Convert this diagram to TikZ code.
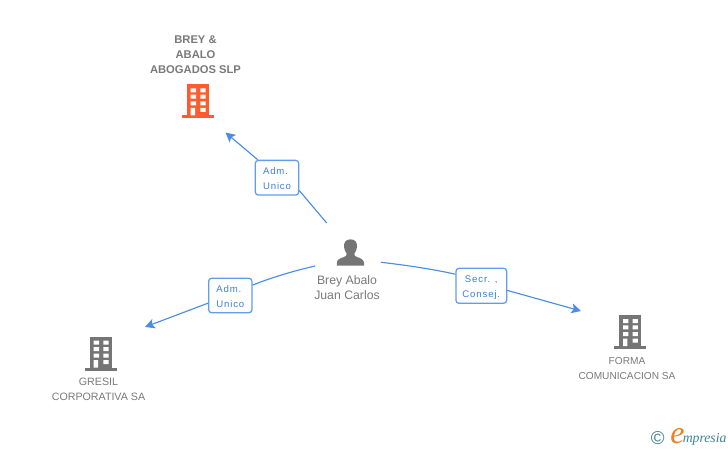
\documentclass[tikz,border=0pt]{standalone}
\usepackage{fontspec}
\setmainfont{Liberation Sans}
\newfontfamily\spaced[LetterSpace=9]{Liberation Sans}
\newfontfamily\logofont{Liberation Serif}
\usetikzlibrary{arrows.meta}
\definecolor{linkblue}{HTML}{4A8CE8}
\definecolor{boxblue}{HTML}{629CEE}
\definecolor{textblue}{HTML}{3C7FE0}
\definecolor{iconGrey}{HTML}{757575}
\definecolor{textGrey}{HTML}{7A7A7A}
\definecolor{orangeicon}{HTML}{FF5C2E}
\definecolor{logoteal}{HTML}{3F8296}
\definecolor{logoorange}{HTML}{F08020}
\tikzset{
  x=0.75pt,y=-0.75pt,
  link/.style={draw=linkblue,line width=0.85pt},
  arrowlink/.style={link,-{Stealth[length=7.2pt,width=7.4pt,inset=1.6pt]}},
  rolebox/.style={draw=boxblue,line width=0.95pt,rounded corners=2.2pt,top color=white,bottom color=white,middle color=white,
    inner sep=0pt,font=\spaced\fontsize{7.2}{11.25}\selectfont,text=textblue,align=left},
  cname/.style={inner sep=0pt,align=center,text=textGrey,font=\fontsize{8}{11.25}\selectfont},
  fname/.style={cname,font=\fontsize{7.6}{11.25}\selectfont},
  pname/.style={cname,font=\fontsize{9.2}{11.25}\selectfont},
  tname/.style={cname,font=\bfseries\fontsize{8.4}{11.25}\selectfont},
  pics/bldg/.style={code={
    \fill[#1] (-11,0) rectangle (11,31);
    \fill[#1] (-16,31) rectangle (16,34);
    \fill[white]
      (-7.3,4) rectangle (-2,8)   (2.3,4) rectangle (7.6,8)
      (-7.3,10.3) rectangle (-2,14.3) (2.3,10.3) rectangle (7.6,14.3)
      (-7.3,17) rectangle (-2,21) (2.3,17) rectangle (7.6,21)
      (-7.3,23.5) rectangle (-3,31) (2.3,23.5) rectangle (7.6,27.5);
  }}
}
\begin{document}
\begin{tikzpicture}
\useasboundingbox (0,0) rectangle (728,450);
\fill[white] (0,0) rectangle (728,450);

% buildings
\pic at (198,84.3) {bldg=orangeicon};
\pic at (101,336.7) {bldg=iconGrey};
\pic at (630.3,315) {bldg=iconGrey};

% person
\fill[iconGrey] (350.5,239.3) .. controls (345.5,239.3) and (343.6,243) .. (344,247)
  .. controls (344.3,250) and (345.5,252) .. (346.6,253.5)
  .. controls (346.9,255.5) and (346,256.3) .. (344,257)
  .. controls (340,258.3) and (337,259.5) .. (336.8,263)
  -- (336.8,265.7) -- (364,265.7) -- (364,263)
  .. controls (363.8,259.5) and (361,258.3) .. (357,257)
  .. controls (355,256.3) and (354.1,255.5) .. (354.4,253.5)
  .. controls (355.5,252) and (356.7,250) .. (357,247)
  .. controls (357.4,243) and (355.5,239.3) .. (350.5,239.3) -- cycle;

% texts
\node[tname] (brey) at (195.5,54.5) {BREY \&\\ABALO\\ABOGADOS SLP};
\node[cname] (gresil) at (98.5,389.5) {GRESIL\\CORPORATIVA SA};
\node[fname] (forma) at (627,369) {FORMA\\COMUNICACION SA};
\node[pname] (person) at (347,287.5) {Brey Abalo\\Juan Carlos};

% role boxes
\node[rolebox,minimum width=32.5pt,minimum height=26pt] (lab1) at (277,177.7) {\rule{0pt}{6.3pt}Adm.\\Unico};
\node[rolebox,minimum width=32.5pt,minimum height=25.8pt] (lab2) at (230.3,295.5) {\rule{0pt}{6.3pt}Adm.\\Unico};
\node[rolebox,minimum width=38pt,minimum height=26.2pt,align=center] (lab3) at (481.3,285.8) {\rule{0pt}{8.2pt}Secr. ,\\Consej.};

% connector ends
\coordinate (p1) at (326.7,223);
\coordinate (p2) at (315,266);
\coordinate (p3) at (381,262.3);
\coordinate (t1) at (225.5,132.5);
\coordinate (t2) at (145,327);
\coordinate (t3) at (581,311);

\draw[link] (p1) -- (lab1.-30.5);
\draw[arrowlink] (lab1.137.5) -- (t1);
\draw[link] (p2) .. controls (295,270.5) and (270,278) .. (lab2.25.5);
\draw[arrowlink] (lab2.199.9) -- (t2);
\draw[link] (p3) .. controls (405,265) and (435,269.5) .. (lab3.156.9);
\draw[arrowlink] (lab3.-10.9) -- (t3);

% logo
\node[inner sep=0pt,text=logoteal,font=\fontsize{14}{14}\selectfont] (copy) at (657.8,438.3) {©};
\node[inner sep=0pt,text=logoorange,font=\logofont\itshape\fontsize{24}{24}\selectfont] (logoe) at (677.5,436) {e};
\node[inner sep=0pt,anchor=base west,text=logoteal,font=\logofont\itshape\fontsize{10.3}{10.3}\selectfont] (logot) at (682.5,442) {mpresia};
\end{tikzpicture}
\end{document}
